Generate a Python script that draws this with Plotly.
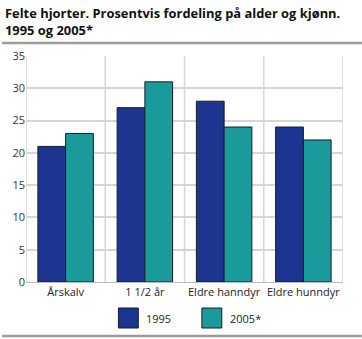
import plotly.graph_objects as go

categories = ["Årskalv", "1 1/2 år", "Eldre hanndyr", "Eldre hunndyr"]
series_names = ["1995", "2005*"]
values_1995 = [21, 27, 28, 24]
values_2005 = [23, 31, 24, 22]
colors = ["#1b3590", "#1a9a9a"]
y_ticks = [0, 5, 10, 15, 20, 25, 30, 35]

font_family = "Open Sans, DejaVu Sans, sans-serif"

W, H = 362, 339
L, R, T, B = 24, 19, 56, 57
PW, PH = W - L - R, H - T - B


def px_x(x):
    # pixel column -> paper x
    return (x - L) / PW


def px_y(y):
    # pixel row (from top) -> paper y
    return (H - B - y) / PH


fig = go.Figure()
for name, vals, col in zip(series_names, [values_1995, values_2005], colors):
    fig.add_trace(go.Bar(
        x=categories, y=vals, name=name,
        marker=dict(color=col, line=dict(color="#1a1a2a", width=1)),
        showlegend=False,
    ))

# category separators drawn as vertical grid lines between groups
for i in range(len(categories) + 1):
    fig.add_shape(type="line", xref="x", yref="y",
                  x0=i - 0.5, x1=i - 0.5, y0=0, y1=35,
                  line=dict(color="#d6d6d6", width=1.5), layer="below")

fig.update_layout(
    width=W, height=H,
    margin=dict(l=L, r=R, t=T, b=B),
    paper_bgcolor="white", plot_bgcolor="white",
    barmode="group", bargap=0.3, bargroupgap=0,
    font=dict(family=font_family, size=11, color="#333333"),
    xaxis=dict(range=[-0.5, 3.5], showgrid=False, showline=True,
               linecolor="#bbbbbb", linewidth=1, ticks="",
               tickfont=dict(size=11, color="#222222")),
    yaxis=dict(range=[0, 35], tickvals=y_ticks, showgrid=True,
               gridcolor="#d6d6d6", gridwidth=1.5, zeroline=False,
               showline=False, ticks="", ticklen=0,
               tickfont=dict(size=11, color="#333333")),
)

# title
fig.add_annotation(text="<b>Felte hjorter. Prosentvis fordeling på alder og kjønn.<br>1995 og 2005*</b>",
                   xref="paper", yref="paper", x=px_x(1), y=px_y(2),
                   xanchor="left", yanchor="top", showarrow=False, align="left",
                   font=dict(size=12.9, color="#111111", family=font_family))

# rules under title and at bottom
for yy in (43, 336):
    fig.add_shape(type="line", xref="paper", yref="paper",
                  x0=px_x(0), x1=px_x(W), y0=px_y(yy), y1=px_y(yy),
                  line=dict(color="#9a9a9a", width=2.5))

# legend swatches and labels
legend_x = [117, 201]
for lx, name, col in zip(legend_x, series_names, colors):
    fig.add_shape(type="rect", xref="paper", yref="paper",
                  x0=px_x(lx), x1=px_x(lx + 20),
                  y0=px_y(328), y1=px_y(308),
                  fillcolor=col, line=dict(color="#1a1a2a", width=1))
    fig.add_annotation(text=name, xref="paper", yref="paper",
                       x=px_x(lx + 26), y=px_y(318),
                       xanchor="left", yanchor="middle", showarrow=False,
                       font=dict(size=11, color="#222222"))

fig.write_html("out.html")
